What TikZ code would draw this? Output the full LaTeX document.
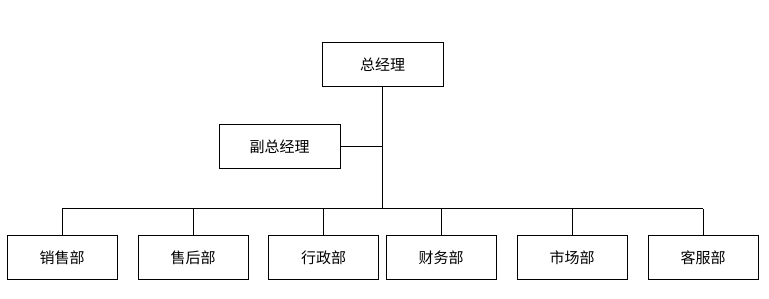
\documentclass[tikz,border=0pt]{standalone}
\usepackage{fontspec}
\newfontfamily\cjk{Noto Sans CJK SC}
\tikzset{
  box/.style={draw=black, line width=1pt, fill=white, minimum width=#1, minimum height=44pt, inner sep=0pt, font=\cjk\fontsize{15}{18}\selectfont},
  box/.default=110pt,
  conn/.style={draw=black, line width=1pt}
}
\begin{document}
\begin{tikzpicture}[x=1pt,y=-1pt]
\useasboundingbox (0,0) rectangle (769,299);
\node[box=121pt] (gm) at (382.5,65) {总经理};
\node[box=121pt] (vgm) at (279.5,147) {副总经理};
\node[box] (d1) at (62,258) {销售部};
\node[box] (d2) at (193,258) {售后部};
\node[box] (d3) at (323.5,258) {行政部};
\node[box] (d4) at (441,258) {财务部};
\node[box] (d5) at (572,258) {市场部};
\node[box] (d6) at (703,258) {客服部};
\coordinate (busL) at (62,209);
\coordinate (busR) at (703,209);
\coordinate (busM) at (gm.south |- busL);
\draw[conn] (gm.south) -- (busM);
\draw[conn] (vgm.east) -- (gm.south |- vgm.east);
\draw[conn] (busL) -- (busR);
\foreach \d in {d1,d2,d3,d4,d5,d6}{
  \draw[conn] (\d.north) -- (\d.north |- busL);
}
\end{tikzpicture}
\end{document}
